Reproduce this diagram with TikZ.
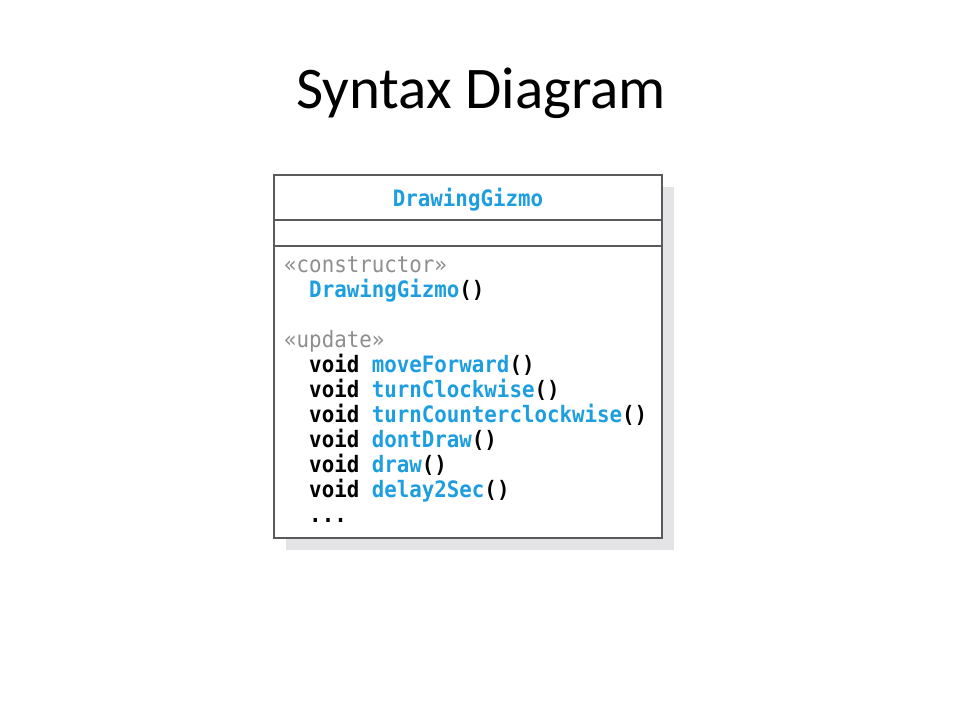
\documentclass[tikz,border=0pt]{standalone}
\usepackage{fontspec}
\setmainfont{Carlito}
\setmonofont[FakeStretch=0.92]{DejaVu Sans Mono}
\definecolor{gizmoblue}{HTML}{1C9EE0}
\definecolor{stereogray}{HTML}{8E8E8E}
\definecolor{boxgray}{HTML}{5A5A5A}
\definecolor{shadowgray}{HTML}{E4E4E6}
\begin{document}
\begin{tikzpicture}[x=1pt, y=-1pt,
  code/.style={anchor=base west, inner sep=0pt, font=\ttfamily\bfseries\fontsize{22.6}{25}\selectfont},
  stereo/.style={code, text=stereogray, font=\ttfamily\mdseries\fontsize{22.6}{25}\selectfont},
  title/.style={anchor=base, inner sep=0pt, font=\fontsize{59}{66}\selectfont}]
\useasboundingbox (0,0) rectangle (960,720);
% title
\node[title] (title) at (481,108) {Syntax Diagram};
% class box with its shadow
\fill[shadowgray] (286,187) rectangle (674,550);
\fill[white] (274,175) rectangle (662,538);
\draw[boxgray, line width=1.4pt] (274,175) rectangle (662,538);
\draw[boxgray, line width=1.4pt] (274,220) -- (662,220);
\draw[boxgray, line width=1.4pt] (274,246) -- (662,246);
\node[code, anchor=base, text=gizmoblue] (name) at (468,206) {DrawingGizmo};
% operations
\node[stereo] (ctor) at (284,272) {«constructor»};
\node[code] (gizmo) at (284,297) {\ \ \textcolor{gizmoblue}{DrawingGizmo}()};
\node[stereo] (update) at (284,347) {«update»};
\node[code] (fwd) at (284,372) {\ \ void \textcolor{gizmoblue}{moveForward}()};
\node[code] (cw) at (284,397) {\ \ void \textcolor{gizmoblue}{turnClockwise}()};
\node[code] (ccw) at (284,422) {\ \ void \textcolor{gizmoblue}{turnCounterclockwise}()};
\node[code] (nodraw) at (284,447) {\ \ void \textcolor{gizmoblue}{dontDraw}()};
\node[code] (draw) at (284,472) {\ \ void \textcolor{gizmoblue}{draw}()};
\node[code] (delay) at (284,497) {\ \ void \textcolor{gizmoblue}{delay2Sec}()};
\node[code] (more) at (284,522) {\ \ ...};
\end{tikzpicture}
\end{document}
